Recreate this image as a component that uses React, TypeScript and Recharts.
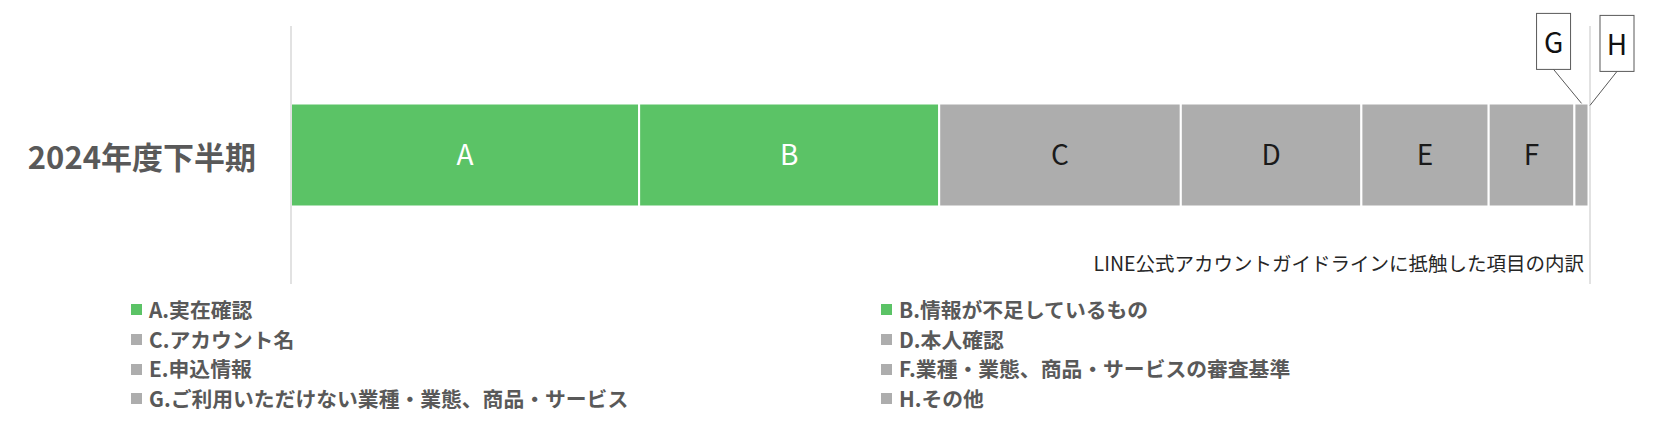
import React from 'react';
import { BarChart, Bar, XAxis, YAxis, LabelList, ReferenceLine } from 'recharts';

const categories = ['2024年度下半期'];
const seriesKeys = ['A', 'B', 'C', 'D', 'E', 'F', 'G', 'H'];
const seriesValues = [26.8, 23.1, 18.6, 13.9, 9.8, 6.6, 1.1, 0.1];
const seriesNames = [
  'A.実在確認',
  'B.情報が不足しているもの',
  'C.アカウント名',
  'D.本人確認',
  'E.申込情報',
  'F.業種・業態、商品・サービスの審査基準',
  'G.ご利用いただけない業種・業態、商品・サービス',
  'H.その他',
];
const seriesColors = ['#5BC366', '#5BC366', '#ADADAD', '#ADADAD', '#ADADAD', '#ADADAD', '#ADADAD', '#ADADAD'];
const labelColors = ['#FFFFFF', '#FFFFFF', '#1A1A1A', '#1A1A1A', '#1A1A1A', '#1A1A1A', '#1A1A1A', '#1A1A1A'];
const noteText = 'LINE公式アカウントガイドラインに抵触した項目の内訳';

const FONT = '"Noto Sans CJK JP", "Noto Sans", sans-serif';

const data = categories.map((name) => {
  const row: Record<string, any> = { name };
  seriesKeys.forEach((k, i) => {
    row[k] = seriesValues[i];
  });
  return row;
});

const CategoryTick = (props: any) => {
  const { x, y, payload } = props;
  return (
    <text
      x={x - 27}
      y={y}
      textAnchor="end"
      dominantBaseline="central"
      fontSize={31}
      fontWeight={700}
      fill="#595959"
      fontFamily={FONT}
    >
      {payload.value}
    </text>
  );
};

const makeCallout = (letter: string, side: 'left' | 'right') => (props: any) => {
  const vb = props.viewBox && props.viewBox.width !== undefined ? props.viewBox : props;
  const x = Number(vb.x);
  const y = Number(vb.y);
  const width = Number(vb.width);
  const cx = x + width / 2;
  const boxW = 34;
  const boxH = 56;
  const boxCx = side === 'left' ? cx - 28 : x + width + 27;
  const boxBottom = side === 'left' ? y - 34 : y - 32;
  const endX = side === 'left' ? cx : x + width;
  const endY = side === 'left' ? y : y + 2;
  return (
    <g>
      <rect x={boxCx - boxW / 2} y={boxBottom - boxH} width={boxW} height={boxH} fill="#FFFFFF" stroke="#595959" strokeWidth={1} />
      <text
        x={boxCx}
        y={boxBottom - boxH / 2}
        textAnchor="middle"
        dominantBaseline="central"
        fontSize={28}
        fill="#111111"
        fontFamily={FONT}
      >
        {letter}
      </text>
      <line x1={boxCx} y1={boxBottom} x2={endX} y2={endY} stroke="#595959" strokeWidth={1} />
    </g>
  );
};

const NoteLabel = (props: any) => {
  const vb = props.viewBox || {};
  const x = Number(vb.x);
  const y = Number(vb.y) + Number(vb.height || 0);
  return (
    <text x={x - 6} y={y - 22} textAnchor="end" dominantBaseline="central" fontSize={19.5} fill="#262626" fontFamily={FONT}>
      {noteText}
    </text>
  );
};

export default function App() {
  return (
    <div style={{ position: 'absolute', left: 0, top: 0, width: 1662, height: 430, background: '#FFFFFF' }}>
      <BarChart
        width={1662}
        height={430}
        data={data}
        layout="vertical"
        margin={{ top: 26, right: 72, bottom: 146, left: 0 }}
        barCategoryGap="30%"
      >
        <XAxis type="number" domain={[0, 100]} allowDataOverflow hide />
        <YAxis
          type="category"
          dataKey="name"
          width={291}
          axisLine={{ stroke: '#D9D9D9', strokeWidth: 1.5 }}
          tickLine={false}
          tick={<CategoryTick />}
        />
        <ReferenceLine x={100} stroke="#D9D9D9" strokeWidth={1.5} label={(p: any) => <NoteLabel {...p} />} />
        {seriesKeys.map((k, i) => (
          <Bar
            key={k}
            dataKey={k}
            name={seriesNames[i]}
            stackId="total"
            fill={seriesColors[i]}
            stroke="#FFFFFF"
            strokeWidth={2}
            isAnimationActive={false}
          >
            {k === 'G' ? (
              <LabelList dataKey={k} content={makeCallout('G', 'left')} />
            ) : k === 'H' ? (
              <LabelList dataKey={k} content={makeCallout('H', 'right')} />
            ) : (
              <LabelList
                dataKey={k}
                position="center"
                formatter={() => k}
                fill={labelColors[i]}
                fontSize={28}
                fontFamily={FONT}
              />
            )}
          </Bar>
        ))}
      </BarChart>
      <div
        style={{
          position: 'absolute',
          left: 131,
          top: 295,
          display: 'grid',
          gridTemplateColumns: '750px auto',
          fontFamily: FONT,
          fontWeight: 700,
          fontSize: 20.8,
          color: '#595959',
          lineHeight: '29.7px',
        }}
      >
        {seriesKeys.map((k, i) => (
          <div key={k} style={{ display: 'flex', alignItems: 'center', whiteSpace: 'nowrap' }}>
            <span style={{ display: 'inline-block', width: 11, height: 11, background: seriesColors[i], marginRight: 7 }} />
            <span>{seriesNames[i]}</span>
          </div>
        ))}
      </div>
    </div>
  );
}
